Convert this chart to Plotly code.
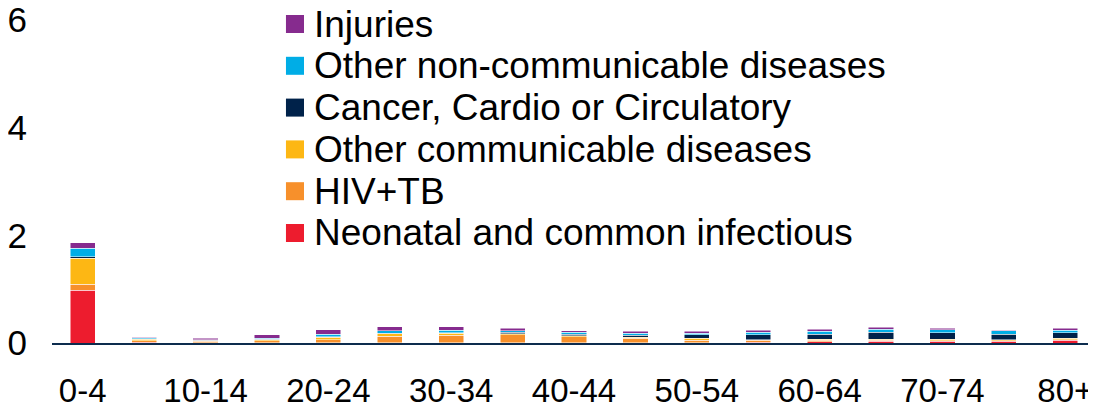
import plotly.graph_objects as go

# age bands
age_groups = ["0-4", "5-9", "10-14", "15-19", "20-24", "25-29", "30-34", "35-39", "40-44",
              "45-49", "50-54", "55-59", "60-64", "65-69", "70-74", "75-79", "80+"]

# values per cause (bottom of stack first)
neonatal = [0.98, 0.01, 0.005, 0.005, 0.005, 0.005, 0.005, 0.005, 0.005,
            0.005, 0.005, 0.01, 0.02, 0.037, 0.03, 0.03, 0.05]
hiv_tb = [0.11, 0.03, 0.03, 0.04, 0.06, 0.125, 0.14, 0.15, 0.11,
          0.08, 0.045, 0.04, 0.03, 0.01, 0.01, 0.01, 0.01]
other_comm = [0.48, 0.03, 0.01, 0.02, 0.045, 0.045, 0.037, 0.02, 0.02,
              0.025, 0.037, 0.015, 0.02, 0.025, 0.03, 0.02, 0.03]
cancer_cardio = [0.03, 0.005, 0.005, 0.005, 0.005, 0.005, 0.01, 0.025, 0.03,
                 0.03, 0.068, 0.087, 0.093, 0.125, 0.118, 0.105, 0.1]
other_ncd = [0.16, 0.02, 0.01, 0.02, 0.045, 0.045, 0.045, 0.03, 0.037,
             0.045, 0.03, 0.045, 0.056, 0.062, 0.056, 0.062, 0.05]
injuries = [0.10, 0.015, 0.03, 0.06, 0.09, 0.075, 0.062, 0.045, 0.03,
            0.03, 0.03, 0.037, 0.037, 0.03, 0.03, 0.012, 0.03]

series = [
    ("Neonatal and common infectious", neonatal, "#ED1C2E"),
    ("HIV+TB", hiv_tb, "#F7902B"),
    ("Other communicable diseases", other_comm, "#FDB714"),
    ("Cancer, Cardio or Circulatory", cancer_cardio, "#00224A"),
    ("Other non-communicable diseases", other_ncd, "#00ADE6"),
    ("Injuries", injuries, "#862B8E"),
]

fig = go.Figure()
for name, vals, col in series:
    fig.add_trace(go.Bar(x=age_groups, y=vals, name=name, showlegend=False,
                         marker=dict(color=col, line=dict(color="white", width=0.5))))

# legend drawn by hand so the rows sit as tight as in the original
# plot area is 323 px high, 1044 px wide
row_gap = 41.8 / 323
top_row = 1 - 4 / 323
sq_h = 9 / 323
for i, (name, vals, col) in enumerate(reversed(series)):
    yc = top_row - i * row_gap
    fig.add_shape(type="rect", xref="paper", yref="paper",
                  x0=0.2241, x1=0.2414, y0=yc - sq_h, y1=yc + sq_h,
                  fillcolor=col, line=dict(width=0))
    fig.add_annotation(text=name, xref="paper", yref="paper", x=0.249, y=yc,
                       xanchor="left", yanchor="middle", showarrow=False,
                       font=dict(size=37, color="black"))

fig.update_layout(
    barmode="stack",
    bargap=0.59,
    width=1088, height=398,
    margin=dict(l=44, r=0, t=12, b=63, autoexpand=False),
    plot_bgcolor="white", paper_bgcolor="white",
    font=dict(family="Liberation Sans, Arial", color="black"),
)
fig.update_xaxes(
    type="category",
    tickvals=age_groups[::2], ticktext=age_groups[::2],
    showline=True, linecolor="#0D2C4E", linewidth=2,
    ticks="", showgrid=False,
    tickfont=dict(size=33),
    ticklabelstandoff=17,
)
fig.update_yaxes(
    range=[0, 6], tickvals=[0, 2, 4, 6],
    showgrid=False, zeroline=False, showline=False, ticks="",
    tickfont=dict(size=35), ticklabelstandoff=24,
    ticklabeloverflow="allow",
)

fig.write_html("out.html")
